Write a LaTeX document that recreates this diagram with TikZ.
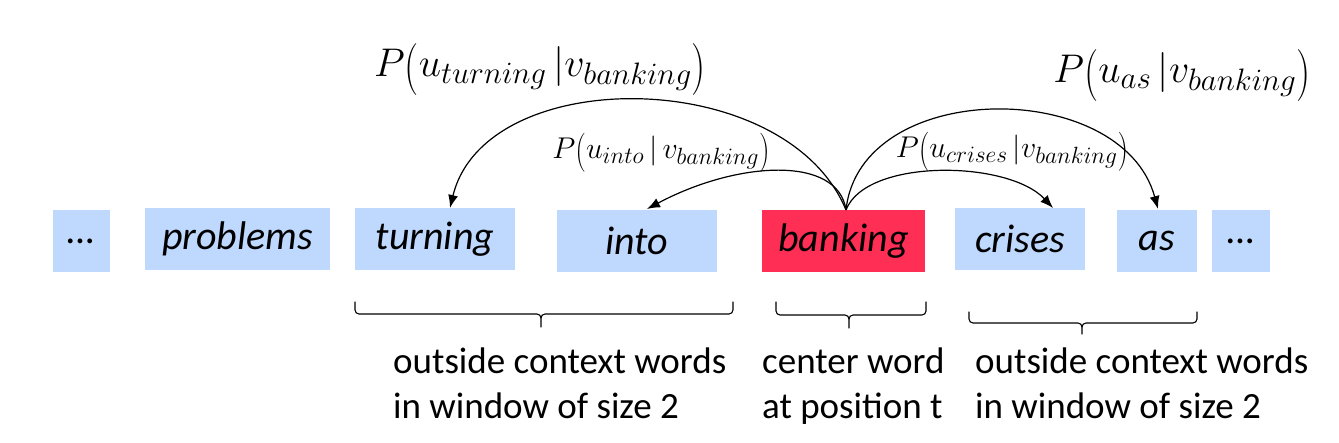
\RequirePackage{fix-cm}
\documentclass[tikz,border=0pt]{standalone}
\usepackage{fontspec}
\setmainfont{Carlito}
\DeclareMathSizes{40}{40}{31}{24}
\DeclareMathSizes{30}{30}{23.5}{18}
\usetikzlibrary{arrows.meta}
\definecolor{wordblue}{RGB}{191,216,254}
\definecolor{centerred}{RGB}{255,46,84}
\newcommand\mylp{\mathopen{\raisebox{-0.15em}{\scalebox{1}[1.3]{$($}}}}
\newcommand\myrp{\mathclose{\raisebox{-0.15em}{\scalebox{1}[1.3]{$)$}}}}
\begin{document}
\begin{tikzpicture}[x=1pt,y=-1pt,
  word/.style={fill=wordblue, inner sep=0pt, minimum height=62pt,
    font=\fontsize{40}{48}\selectfont\itshape},
  center/.style={word, fill=centerred},
  biglabel/.style={inner sep=0pt, font=\fontsize{40}{48}\selectfont},
  smalllabel/.style={inner sep=0pt, font=\fontsize{30}{36}\selectfont},
  ctx/.style={inner sep=0pt, align=left, anchor=north west,
    font=\fontsize{37}{45}\selectfont},
  conn/.style={line width=1.2pt, -{Latex[length=13pt,width=10pt]}},
  bracket/.style={line width=1.1pt, line cap=round, line join=round}
]
\useasboundingbox (0,0) rectangle (1339,443);

% word boxes
\node[word, minimum width=57pt]  (d1)  at (81.5,241.5) {…};
\node[word, minimum width=185pt] (w1)  at (237.5,239) {problems};
\node[word, minimum width=160pt] (w2)  at (435,239) {turning};
\node[word, minimum width=160pt] (w3)  at (637,241) {into};
\node[center, minimum width=163pt] (c) at (843.5,241) {banking};
\node[word, minimum width=130pt] (w4)  at (1020,239) {crises};
\node[word, minimum width=80pt]  (w5)  at (1157,241) {as};
\node[word, minimum width=58pt]  (d2)  at (1241,241) {…};

% start point of connectors
\coordinate (s) at (846,210);
\coordinate (tturn) at (450,208);
\coordinate (tinto) at (647,209);
\coordinate (tcris) at (1053,208);
\coordinate (tas) at (1158,209);

% connectors
\draw[conn] (s) .. controls +(-60,-145) and +(35,-145) .. (tturn);
\draw[conn] (s) .. controls +(-8,-55) and +(90,-48) .. (tinto);
\draw[conn] (s) .. controls +(20,-52) and +(-45,-48) .. (tcris);
\draw[conn] (s) .. controls +(14,-132) and +(-36,-132) .. (tas);

% probability labels
\node[biglabel] (pturn) at (540,70) {$P\mylp u_{turning}\,|v_{banking}\myrp$};
\node[smalllabel] (pinto) at (661,153) {$P\mylp u_{into}\,|\,v_{banking}\myrp$};
\node[smalllabel] (pcris) at (1012,152) {$P\mylp u_{crises}\,|v_{banking}\myrp$};
\node[biglabel] (pas) at (1182,76) {$P\mylp u_{as}\,|v_{banking}\myrp$};

% brackets
\draw[bracket] (355,302) -- (355,310) to[out=-90,in=180] (359,314) -- (537,314)
  to[out=0,in=90] (541,318) -- (541,327);
\draw[bracket] (733,302) -- (733,310) to[out=-90,in=0] (729,314) -- (545,314)
  to[out=180,in=90] (541,318);
\draw[bracket] (776,302) -- (776,311) to[out=-90,in=180] (780,315) -- (845,315)
  to[out=0,in=90] (849,319) -- (849,328);
\draw[bracket] (926,302) -- (926,311) to[out=-90,in=0] (922,315) -- (853,315)
  to[out=180,in=90] (849,319);
\draw[bracket] (969,312) -- (969,319) to[out=-90,in=180] (973,323) -- (1078,323)
  to[out=0,in=90] (1082,327) -- (1082,334);
\draw[bracket] (1197,312) -- (1197,319) to[out=-90,in=0] (1193,323) -- (1086,323)
  to[out=180,in=90] (1082,327);

% bottom texts
\node[ctx] (t1) at (393,348) {outside context words\\in window of size 2};
\node[ctx] (t2) at (762,348) {center word\\at position t};
\node[ctx] (t3) at (975,348) {outside context words\\in window of size 2};
\end{tikzpicture}
\end{document}
